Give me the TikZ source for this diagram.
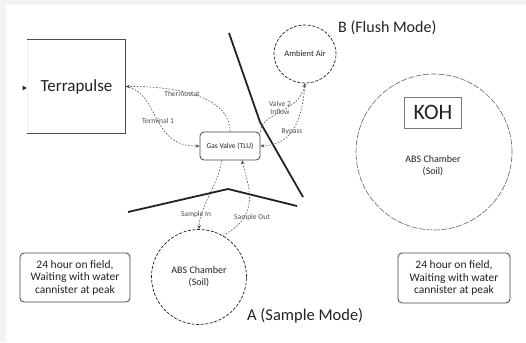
\documentclass[tikz,border=0pt]{standalone}
\usepackage{fontspec}
\setmainfont{Carlito}
\usetikzlibrary{arrows.meta,shapes.geometric}
\definecolor{ink}{HTML}{222222}
\definecolor{frame}{HTML}{F3F3F3}
\begin{document}
\begin{tikzpicture}[x=1pt,y=-1pt,
  txt/.style={text=ink,inner sep=0pt,align=center},
  thick line/.style={line width=1.8pt,ink},
  dashcircle/.style={draw=ink,line width=0.7pt,dash pattern=on 3pt off 1.6pt,ellipse,inner sep=0pt},
  conn/.style={draw=ink!80,line width=0.6pt,dash pattern=on 1.6pt off 1.6pt,-{Stealth[length=4pt,width=3.5pt]}},
  note/.style={draw=ink!85,line width=0.8pt,rounded corners=4pt,text=ink,align=center,font=\fontsize{11.5}{12.5}\selectfont,inner sep=0pt},
  small/.style={txt,font=\fontsize{7.5}{8}\selectfont,text=ink!80},
]
\useasboundingbox (0,0) rectangle (526,342);
\fill[frame] (0,0) rectangle (526,5);
\fill[frame] (0,0) rectangle (6,342);

% Terrapulse box (open on left)
\node[txt,minimum width=98,minimum height=93,font=\fontsize{17}{20}\selectfont] (terra) at (76.5,86.5) {Terrapulse};
\draw[ink!80,line width=1pt] (terra.north west) -- (terra.north east) -- (terra.south east) -- (terra.south west);
\draw[ink!6,line width=0.6pt] (terra.north west) -- (terra.south west);
\node[fill=ink,isosceles triangle,isosceles triangle apex angle=60,inner sep=0pt,minimum width=4pt,minimum height=4pt] (mark) at (24,88) {};

% Gas valve
\node[draw=ink!85,line width=0.8pt,rounded corners=4pt,minimum width=60,minimum height=28,txt,font=\fontsize{7.5}{8}\selectfont] (gv) at (230,146) {Gas Valve (TLU)};

% Ambient air
\node[dashcircle,minimum width=62,minimum height=58,txt,font=\fontsize{8.5}{9}\selectfont] (amb) at (305,54) {Ambient Air};
\node[txt,anchor=west,font=\fontsize{16}{18}\selectfont] (bmode) at (338,28) {B (Flush Mode)};

% Sample chamber
\node[dashcircle,circle,minimum size=95,txt,font=\fontsize{10}{12}\selectfont] (abs1) at (199,277) {ABS Chamber\\(Soil)};
\node[txt,anchor=west,font=\fontsize{16.5}{18}\selectfont] (amode) at (247,316) {A (Sample Mode)};

% Right chamber
\node[draw=ink!70,line width=0.6pt,dash pattern=on 6pt off 1.5pt,circle,minimum size=156,inner sep=0pt] (abs2) at (434,152) {};
\node[draw=ink!60,line width=0.6pt,minimum width=57,minimum height=31,txt,font=\fontsize{22}{24}\selectfont] (koh) at (433,112.5) {KOH};
\node[txt,font=\fontsize{10}{12}\selectfont] (abs2lab) at (433,166) {ABS Chamber\\(Soil)};

% Notes
\node[note,minimum width=110,minimum height=49] (noteL) at (75,277.5) {24 hour on field,\\Waiting with water\\cannister at peak};
\node[note,minimum width=112,minimum height=50] (noteR) at (454,278) {24 hour on field,\\Waiting with water\\cannister at peak};

% Thick divider lines
\draw[thick line] (229,33) -- (260,122) -- (303,197);
\draw[thick line] (128,212) -- (228,189) -- (297,206);

% Connectors to Terrapulse
\draw[conn] (gv.north) .. controls (231,100) and (185,86) .. (terra.east);
\draw[conn] (terra.east) .. controls (160,92) and (150,147) .. (gv.west);
\node[small] (l1) at (182,94) {Thermostat};
\node[small] (l2) at (158,121) {Terminal 1};

% Sample connectors
\draw[conn] ([xshift=-8pt]gv.south) .. controls (216,190) and (200,205) .. (abs1.north);
\draw[conn] (abs1.60) .. controls (262,215) and (248,185) .. ([xshift=12pt]gv.south);
\node[small] (l3) at (196,214) {Sample In};
\node[small] (l4) at (252,217) {Sample Out};

% Ambient connectors
\draw[conn] (gv.north east) .. controls (262,112) and (300,112) .. (amb.south);
\draw[conn] (amb.south) .. controls (302,125) and (290,145) .. (gv.east);
\node[small] (l5) at (280,108) {Valve 2\\Inflow};
\node[small] (l6) at (292,132) {Bypass};
\end{tikzpicture}
\end{document}
